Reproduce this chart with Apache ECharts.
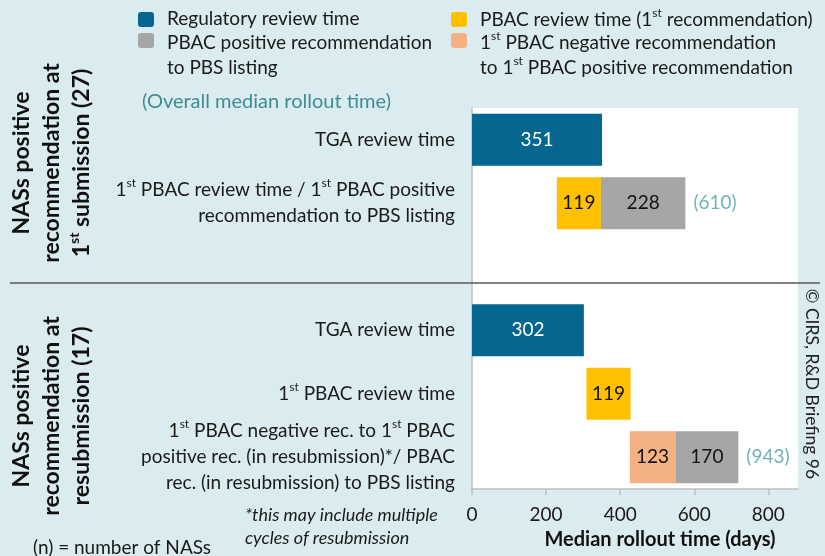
<!DOCTYPE html>
<html>
<head>
<meta charset="utf-8">
<script src="https://cdn.jsdelivr.net/npm/echarts@6/dist/echarts.min.js"></script>
<style>
  html, body { margin: 0; padding: 0; background: #daecef; }
  #chart { width: 825px; height: 556px; }
</style>
</head>
<body>
<div id="chart"></div>
<script>
// rows top to bottom, '' is the gap between the two panels
const categories = [
  'TGA review time',
  '1st PBAC review time / 1st PBAC positive\nrecommendation to PBS listing',
  '',
  'TGA review time',
  '1st PBAC review time',
  '1st PBAC negative rec. to 1st PBAC\npositive rec. (in resubmission)*/ PBAC\nrec. (in resubmission) to PBS listing'
]
// where each row's first bar starts (days)
const startOffset = [0, 229, '-', 0, 309, 426]
const regulatory = [351, '-', '-', 302, '-', '-']
const pbacReview = ['-', 119, '-', '-', 119, '-']
const negToPos = ['-', '-', '-', '-', '-', 123]
const posToListing = ['-', 228, '-', '-', '-', 170]
// overall median rollout time, shown after the row
const totalRows = [1, 5]
const overallTotals = [610, 943]
const xTicks = [0, 200, 400, 600, 800]

const FONT = 'Lato'
const BLUE = '#05668f', YELLOW = '#ffc000', GREY = '#a6a6a6', ORANGE = '#f4b183'
const TEAL = '#4b9fa9'

const sup = s => s.replace(/1st/g, '1{sup|st}')
const num = v => (v === '-' ? 0 : v)

const rowEnds = totalRows.map(i =>
  num(startOffset[i]) + num(regulatory[i]) + num(pbacReview[i]) + num(negToPos[i]) + num(posToListing[i]))

const chart = echarts.init(document.getElementById('chart'))

function segment(name, data, color, labelColor) {
  return {
    name: name, type: 'bar', stack: 'time', data: data, barWidth: 52,
    itemStyle: { color: color },
    label: { show: true, position: 'inside', color: labelColor, fontFamily: FONT, fontSize: 19 }
  }
}

function legendItem(x, y, color, text, ty) {
  return [
    { type: 'rect', shape: { x: x, y: y, width: 16, height: 15, r: 3 }, style: { fill: color } },
    { type: 'text', x: x + 29, y: ty,
      style: { text: sup(text), fill: '#1a1a1a', fontFamily: FONT, fontSize: 19, lineHeight: 25,
        align: 'left', verticalAlign: 'middle',
        rich: { sup: { fontSize: 12, lineHeight: 14, verticalAlign: 'top', fontFamily: FONT } } } }
  ]
}

function sideLabel(x, y, text) {
  return {
    type: 'text', x: x, y: y, rotation: Math.PI / 2,
    style: { text: sup(text), fill: '#111', fontFamily: FONT, fontWeight: 'bold', fontSize: 23,
      lineHeight: 30, align: 'center', verticalAlign: 'middle',
      rich: { sup: { fontSize: 14, lineHeight: 16, fontWeight: 'bold', verticalAlign: 'top', fontFamily: FONT } } }
  }
}

const option = {
  backgroundColor: '#daecef',
  animation: false,
  grid: { left: 472, right: 27, top: 108, bottom: 67, show: true, backgroundColor: '#fff', borderWidth: 0 },
  xAxis: {
    type: 'value', min: 0, max: 880, interval: 200,
    splitLine: { show: false },
    axisLine: { show: true, lineStyle: { color: '#bfbfbf', width: 1.5 } },
    axisTick: { show: true, length: 6, customValues: xTicks, lineStyle: { color: '#bfbfbf', width: 1.5 } },
    axisLabel: { customValues: xTicks, color: '#1a1a1a', fontFamily: FONT, fontSize: 19, margin: 16 }
  },
  yAxis: {
    type: 'category', inverse: true, data: categories,
    axisLine: { show: true, lineStyle: { color: '#bfbfbf', width: 1.5 } },
    axisTick: { show: false },
    axisLabel: {
      color: '#1a1a1a', fontFamily: FONT, fontSize: 19, lineHeight: 26, margin: 17, align: 'right',
      formatter: v => sup(v),
      rich: { sup: { fontSize: 12, lineHeight: 16, verticalAlign: 'top', fontFamily: FONT } }
    }
  },
  series: [
    { name: 'offset', type: 'bar', stack: 'time', data: startOffset, barWidth: 52,
      itemStyle: { color: 'transparent' }, label: { show: false }, silent: true },
    segment('Regulatory review time', regulatory, BLUE, '#fff'),
    segment('PBAC review time (1st recommendation)', pbacReview, YELLOW, '#111'),
    segment('1st PBAC negative recommendation to 1st PBAC positive recommendation', negToPos, ORANGE, '#111'),
    segment('PBAC positive recommendation to PBS listing', posToListing, GREY, '#111'),
    {
      name: 'overall', type: 'scatter', symbolSize: 0,
      data: totalRows.map((r, i) => [rowEnds[i], r]),
      label: { show: true, position: 'right', distance: 8, color: TEAL, fontFamily: FONT, fontSize: 19,
        formatter: p => '(' + overallTotals[p.dataIndex] + ')' }
    }
  ],
  graphic: [
    ...legendItem(138, 12, BLUE, 'Regulatory review time', 19),
    ...legendItem(138, 33, GREY, 'PBAC positive recommendation\nto PBS listing', 55.5),
    ...legendItem(451, 12, YELLOW, 'PBAC review time (1st recommendation)', 20),
    ...legendItem(451, 33, ORANGE, '1st PBAC negative recommendation\nto 1st PBAC positive recommendation', 55.5),
    { type: 'text', x: 142, y: 102,
      style: { text: '(Overall median rollout time)', fill: '#3f8b90', fontFamily: FONT, fontSize: 20,
        align: 'left', verticalAlign: 'middle' } },
    { type: 'line', z: 100, shape: { x1: 10, y1: 283, x2: 820, y2: 283 },
      style: { stroke: '#595959', lineWidth: 1.5 } },
    sideLabel(52, 163, 'NASs positive\nrecommendation at\n1st submission (27)'),
    sideLabel(52, 416, 'NASs positive\nrecommendation at\nresubmission (17)'),
    { type: 'text', x: 812, y: 384, rotation: -Math.PI / 2,
      style: { text: '\u00a9 CIRS, R&D Briefing 96', fill: '#222', fontFamily: FONT, fontSize: 17.5,
        align: 'center', verticalAlign: 'middle' } },
    { type: 'text', x: 245, y: 526.5,
      style: { text: '*this may include multiple\ncycles of resubmission', fill: '#1a1a1a', fontFamily: FONT,
        fontStyle: 'italic', fontSize: 18, lineHeight: 23, align: 'left', verticalAlign: 'middle' } },
    { type: 'text', x: 33, y: 548,
      style: { text: '(n) = number of NASs', fill: '#1a1a1a', fontFamily: FONT, fontSize: 19,
        align: 'left', verticalAlign: 'middle' } },
    { type: 'text', x: 660, y: 540,
      style: { text: 'Median rollout time (days)', fill: '#111', fontFamily: FONT, fontWeight: 'bold',
        fontSize: 20, align: 'center', verticalAlign: 'middle' } }
  ]
}

chart.setOption(option)
</script>
</body>
</html>
